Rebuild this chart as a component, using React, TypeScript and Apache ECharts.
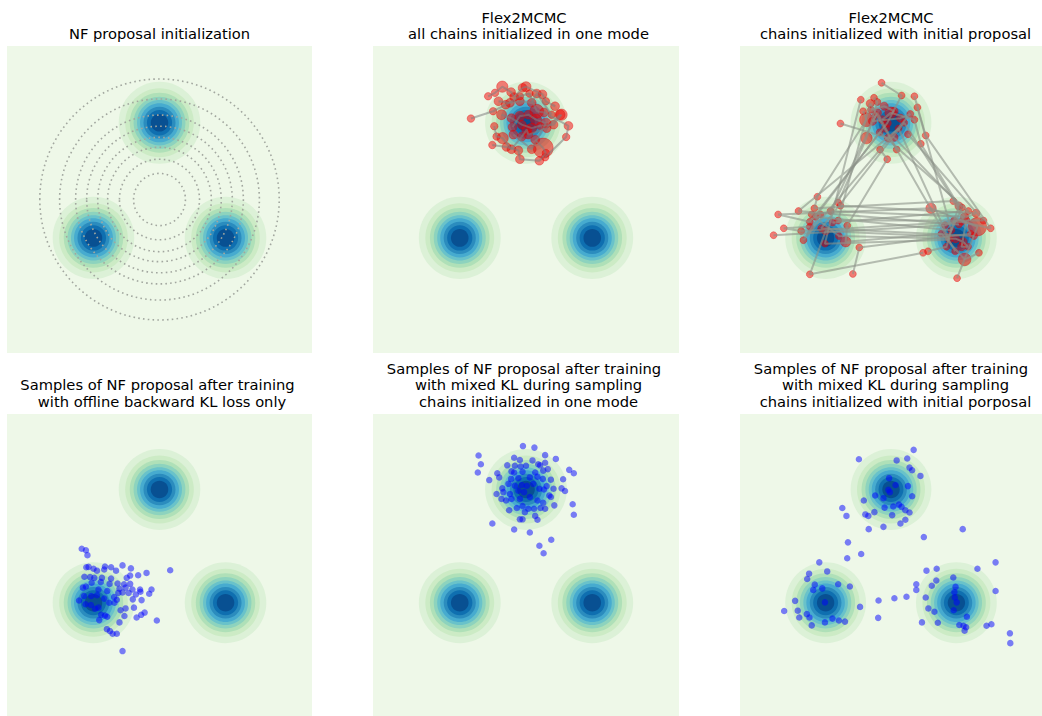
import { useEffect, useRef } from "react";
import * as echarts from "echarts";

// ---------------- data ----------------
const MODE_CENTERS: number[][] = [[0, 2], [-1.732, -1], [1.732, -1]];
// density levels 0.1 .. 0.9 of the peak -> contour radii (sigma = 0.5)
const CONTOUR_RADII: number[] = [1.07, 0.9, 0.78, 0.68, 0.59, 0.51, 0.42, 0.33, 0.23];
const PROPOSAL_RADII: number[] = [0.68, 1.05, 1.36, 1.62, 1.91, 2.2, 2.62, 3.14];

const PANEL_TITLES: string[][] = [
  ["NF proposal initialization"],
  ["Flex2MCMC", "all chains initialized in one mode"],
  ["Flex2MCMC", "chains initialized with initial proposal"],
  ["Samples of NF proposal after training", "with offline backward KL loss only"],
  ["Samples of NF proposal after training", "with mixed KL during sampling", "chains initialized in one mode"],
  ["Samples of NF proposal after training", "with mixed KL during sampling", "chains initialized with initial porposal"],
];

// chains: [x, y, marker size]
const P2_CHAINS: number[][][] = [
  [[-1.44, 2.11, 6], [-0.86, 2.3, 6], [-0.53, 2.47, 7], [-0.16, 2.69, 6], [0.09, 2.76, 6], [0.28, 2.3, 11], [0.47, 2.27, 7], [1.11, 1.92, 7], [1.05, 1.63, 6], [0.5, 1.1, 6]],
  [[-0.64, 2.21, 8], [-0.38, 2.12, 7], [-0.11, 1.95, 7], [0.15, 1.86, 8], [0.37, 1.92, 6], [0.72, 1.95, 7], [0.93, 2.21, 9]],
  [[-0.88, 1.42, 6], [-0.51, 1.37, 7], [-0.2, 1.28, 7], [-0.16, 1.05, 7], [0.35, 1.01, 7], [0.52, 1.21, 6], [0.45, 1.34, 16], [0.24, 1.56, 7]],
  [[-0.99, 2.69, 6], [-0.81, 2.78, 6], [-0.62, 2.94, 9], [-0.39, 2.8, 7], [-0.31, 2.67, 7], [-0.09, 2.91, 7], [0.0, 2.94, 8], [0.43, 2.74, 7], [0.52, 2.56, 6], [0.76, 2.43, 7]],
  [[-0.83, 1.91, 6], [-0.77, 1.64, 6], [-0.61, 1.6, 9], [-0.38, 1.31, 7], [-0.11, 1.64, 7], [0.02, 1.82, 8], [0.06, 1.69, 7], [0.54, 1.86, 7], [0.89, 2.21, 8]],
  [[-0.72, 2.56, 7], [-0.42, 2.52, 7], [-0.16, 2.56, 7], [0.15, 2.52, 7], [0.28, 2.76, 7], [0.67, 2.21, 6]],
  [[-0.35, 1.89, 7], [-0.16, 2.17, 8], [0.06, 2.21, 7], [0.26, 2.08, 9], [0.52, 1.99, 8], [0.15, 1.31, 7], [-0.33, 1.69, 7]],
];

const P3_CHAINS: number[][][] = [
  [[-0.25, 3.04, 6], [0.28, 2.71, 6], [-0.1, 1.99, 7], [-2.15, -0.58, 6], [-2.99, -0.39, 6], [1.06, -0.23, 9], [2.29, -0.71, 16], [1.75, -2.05, 6]],
  [[0.62, 2.69, 6], [0.92, 1.67, 6], [2.64, -0.75, 6], [1.87, -0.58, 6], [-2.38, -0.82, 6], [-2.84, -0.75, 6], [-2.15, -0.71, 6]],
  [[-1.34, 1.98, 6], [-0.07, 1.6, 7], [0.08, 1.62, 7], [1.88, -0.21, 6], [1.52, -0.97, 6], [-1.73, -0.82, 7], [-2.15, -1.95, 6], [0.85, -1.39, 6]],
  [[-0.74, 2.3, 6], [-0.65, 2.08, 12], [-1.95, 0.07, 6], [-2.03, -0.23, 6], [1.65, -0.04, 6], [2.11, -0.89, 6], [-0.84, -1.25, 6], [-1.01, -1.94, 6]],
  [[-0.45, 2.65, 6], [-0.36, 2.54, 6], [-0.65, 1.6, 10], [-1.4, -0.08, 6], [-1.34, -0.16, 6], [2.25, -0.36, 7], [1.43, -0.67, 6], [-3.11, -0.93, 6]],
  [[-0.29, 1.3, 6], [-0.1, 1.05, 6], [-1.16, -0.68, 6], [-1.2, -1.1, 9], [1.34, -0.89, 6], [1.95, -1.56, 11], [2.33, -1.39, 6]],
  [[-0.53, 2.34, 6], [-0.18, 2.43, 7], [0.08, 2.3, 7], [-0.23, 2.08, 7], [-0.01, 2.26, 10], [0.62, 2.08, 6], [0.79, 1.45, 6], [1.8, -0.17, 7], [1.67, -0.55, 6], [1.47, -1.23, 6], [0.98, -1.35, 6]],
  [[0.15, 1.3, 6], [-0.14, 1.86, 7], [-0.36, 2.26, 7], [-0.49, 2.04, 7], [0.25, 2.12, 7], [0.51, 2.23, 6], [-2.32, -1.06, 6], [-1.87, -0.39, 6], [-2.1, -0.39, 6], [-1.38, -0.95, 6], [1.71, -1.02, 7], [1.91, -1.1, 7], [2.04, -1.23, 6], [1.87, -1.23, 7], [2.0, -0.54, 6]],
  [[-0.4, 2.2, 6], [-1.6, -0.3, 6], [1.95, -0.45, 7], [0.35, 2.0, 6], [-1.85, -0.75, 6], [2.2, -0.95, 6]],
  [[0.7, 2.4, 6], [1.6, -0.8, 6], [-2.0, -0.45, 6], [-0.3, 1.75, 6], [2.05, -0.3, 6], [-1.55, -0.6, 6]],
  [[-0.8, 2.6, 6], [-1.75, -1.15, 6], [1.55, -1.05, 6], [0.2, 1.85, 6], [-2.45, -0.3, 6], [1.8, -0.65, 6]],
  [[0.45, 1.7, 6], [2.45, -0.55, 6], [-1.4, -0.55, 6], [-0.55, 2.5, 7], [1.7, -1.35, 6]],
];

const P4_SAMPLES: number[][] = [
  [-2.04, 0.43], [-1.93, 0.39], [-1.89, 0.26], [-1.86, -0.05], [-1.92, -0.06], [-1.73, -0.1], [-1.64, -0.15], [-1.43, -0.04], [-1.45, -0.12], [-1.27, -0.06],
  [-0.97, -0.01], [-1.14, -0.15], [-0.75, -0.09], [-0.34, -0.21], [0.28, -0.14], [-1.97, -0.31], [-1.82, -0.32], [-1.71, -0.34], [-1.51, -0.34], [-1.27, -0.36],
  [-0.86, -0.34], [-0.77, -0.28], [-0.56, -0.27], [-1.78, -0.47], [-1.54, -0.45], [-1.31, -0.5], [-1.1, -0.49], [-0.93, -0.51], [-0.77, -0.5], [-0.51, -0.65],
  [-0.21, -0.65], [-2.01, -0.6], [-1.93, -0.57], [-1.6, -0.65], [-1.37, -0.69], [-1.05, -0.63], [-0.89, -0.6], [-0.81, -0.74], [-0.71, -0.65], [-0.62, -0.78],
  [-0.5, -0.71], [-0.27, -0.76], [-1.98, -0.82], [-1.79, -0.82], [-1.64, -0.8], [-1.45, -0.89], [-1.19, -0.85], [-1.08, -0.74], [-0.97, -0.73], [-0.7, -0.91],
  [-0.47, -0.93], [-2.11, -0.94], [-1.94, -1.04], [-1.8, -1.06], [-1.69, -1.16], [-1.6, -1.13], [-1.32, -1.0], [-1.18, -1.0], [-1.12, -0.92], [-1.53, -1.32],
  [-1.43, -1.34], [-1.37, -1.37], [-1.58, -1.46], [-1.02, -1.2], [-0.89, -1.15], [-0.67, -1.13], [-0.92, -1.35], [-0.6, -1.39], [-0.48, -1.32], [-0.39, -1.26],
  [-1.05, -1.52], [-0.07, -1.47], [-1.38, -1.7], [-1.3, -1.75], [-1.23, -1.82], [-1.12, -1.82], [-0.97, -2.28],
];

const P5_SAMPLES: number[][] = [
  [-0.08, 3.15], [0.22, 3.11], [-1.24, 2.9], [-1.18, 2.67], [-1.26, 2.45], [0.5, 2.91], [0.78, 2.81], [-0.31, 2.84], [-0.16, 2.78], [0.17, 2.77],
  [-0.49, 2.64], [-0.29, 2.63], [-0.14, 2.61], [0.0, 2.63], [0.32, 2.67], [0.37, 2.64], [0.5, 2.71], [1.13, 2.52], [1.25, 2.43], [-0.38, 2.48],
  [-0.31, 2.45], [-0.09, 2.47], [0.24, 2.45], [0.45, 2.5], [0.57, 2.54], [-0.75, 2.43], [-0.7, 2.32], [-0.96, 2.25], [-0.39, 2.28], [-0.2, 2.3],
  [0.1, 2.32], [0.3, 2.34], [0.44, 2.28], [0.65, 2.26], [0.97, 2.27], [-0.46, 2.15], [-0.29, 2.1], [-0.11, 2.12], [0.02, 2.1], [0.19, 2.15],
  [0.54, 2.09], [0.72, 2.02], [0.93, 2.03], [1.02, 1.96], [-0.62, 2.03], [-0.59, 1.93], [-0.77, 1.88], [-0.42, 1.88], [-0.2, 1.97], [-0.05, 1.93],
  [0.35, 2.02], [0.47, 2.0], [0.61, 1.84], [-0.64, 1.75], [-0.52, 1.71], [-0.38, 1.75], [-0.16, 1.75], [0.1, 1.8], [0.3, 1.71], [0.45, 1.65],
  [0.65, 1.8], [0.74, 1.58], [-0.44, 1.45], [-0.24, 1.51], [-0.09, 1.56], [-0.03, 1.4], [0.06, 1.49], [0.21, 1.49], [0.38, 1.51], [0.5, 1.49],
  [-0.16, 1.21], [-0.09, 1.21], [0.24, 1.3], [0.3, 1.2], [-0.88, 1.1], [1.22, 1.61], [1.25, 1.33], [-0.31, 0.94], [0.1, 0.86], [0.66, 0.67],
  [0.35, 0.51], [0.46, 0.31],
];

const P6_SAMPLES: number[][] = [
  [0.6, 3.05], [-0.85, 2.8], [0.15, 2.77], [0.43, 2.82], [0.49, 2.58], [0.56, 2.51], [0.78, 2.36], [-0.05, 2.3], [0.12, 2.12], [-0.07, 1.99],
  [-0.03, 1.93], [0.45, 2.09], [0.56, 1.82], [-0.42, 1.84], [-0.2, 1.77], [-0.72, 1.71], [0.21, 1.6], [0.28, 1.54], [0.38, 1.45], [0.49, 1.39],
  [0.06, 1.55], [-0.17, 1.52], [-0.44, 1.4], [-0.68, 1.34], [-0.6, 1.3], [0.03, 1.32], [0.38, 1.2], [0.25, 1.1], [-0.2, 1.01], [-0.59, 0.95],
  [-1.29, 1.51], [-1.18, 1.3], [0.87, 0.74], [1.9, 0.95], [-1.14, 0.6], [-0.79, 0.29], [-1.16, 0.18], [-1.9, 0.07], [-1.69, -0.17], [-2.17, -0.23],
  [-2.22, -0.37], [-2.02, -0.52], [-1.4, -0.51], [-1.09, -0.57], [-2.06, -0.66], [-1.82, -0.62], [-2.54, -0.95], [-2.83, -1.22], [-2.47, -1.21], [-2.43, -1.39],
  [-2.23, -1.3], [-2.16, -1.39], [-2.1, -1.6], [-1.75, -1.52], [-1.55, -1.42], [-1.38, -1.47], [-1.22, -1.5], [-0.82, -1.11], [-1.75, -0.99], [-0.33, -0.94],
  [-0.34, -1.4], [0.09, -0.88], [0.41, -0.84], [0.67, -0.51], [0.67, -0.66], [0.94, -0.15], [1.21, -0.1], [1.2, -0.41], [1.08, -0.55], [1.65, -0.33],
  [1.71, -0.58], [1.68, -0.72], [1.69, -0.86], [1.74, -0.99], [0.92, -0.86], [0.99, -1.15], [1.15, -1.24], [1.66, -1.2], [2.01, -1.37], [0.82, -1.52],
  [1.24, -1.53], [1.81, -1.59], [1.92, -1.61], [1.99, -1.65], [1.95, -1.74], [2.53, -1.61], [2.66, -1.57], [2.29, -0.1], [2.77, 0.07], [2.77, -0.69],
  [3.15, -1.81], [3.16, -2.07],
];

// ---------------- styles / layout ----------------
const GNBU = ["#dcf1d7", "#ccebc5", "#afe0b8", "#8dd3be", "#69c2ca", "#47abcf", "#2b8cbe", "#0f6fb0", "#085092"];
const BG = "#eef8e8";
const GRIDS = [
  { left: 7, top: 46, width: 305, height: 307 },
  { left: 373, top: 46, width: 306, height: 307 },
  { left: 740, top: 46, width: 306, height: 307 },
  { left: 7, top: 414, width: 305, height: 306 },
  { left: 373, top: 414, width: 306, height: 306 },
  { left: 740, top: 414, width: 306, height: 306 },
];
const TITLE_CX = [159.5, 526, 893];
const FONT = '14.7px "DejaVu Sans"';

export default function App() {
  const ref = useRef<HTMLDivElement>(null);
  useEffect(() => {
    const chart = echarts.init(ref.current as HTMLDivElement, null, { renderer: "svg" });

    const contourData: number[][] = [];
    MODE_CENTERS.forEach((c) => {
      CONTOUR_RADII.forEach((r, i) => contourData.push([c[0], c[1], r, i]));
    });

    const series: any[] = [];
    GRIDS.forEach((_, p) => {
      series.push({
        type: "custom",
        xAxisIndex: p,
        yAxisIndex: p,
        silent: true,
        clip: true,
        encode: { x: 0, y: 1 },
        data: contourData,
        renderItem: (params: any, api: any) => {
          const c = api.coord([api.value(0), api.value(1)]);
          const s = api.size([api.value(2), api.value(2)]);
          return {
            type: "ellipse",
            shape: { cx: c[0], cy: c[1], rx: s[0], ry: s[1] },
            style: { fill: GNBU[api.value(3)] },
          };
        },
      });
    });

    // proposal contours (panel 1)
    series.push({
      type: "custom",
      xAxisIndex: 0,
      yAxisIndex: 0,
      silent: true,
      clip: true,
      encode: { x: 0, y: 1 },
      data: PROPOSAL_RADII.map((r) => [0, 0, r]),
      renderItem: (params: any, api: any) => {
        const c = api.coord([api.value(0), api.value(1)]);
        const s = api.size([api.value(2), api.value(2)]);
        return {
          type: "ellipse",
          shape: { cx: c[0], cy: c[1], rx: s[0], ry: s[1] },
          style: { fill: "none", stroke: "#a2a79f", lineWidth: 1.6, lineDash: [1.6, 3.2] },
        };
      },
    });

    const addChains = (chains: number[][][], p: number, scale: number, lineColor: string) => {
      chains.forEach((ch) => {
        series.push({
          type: "line",
          xAxisIndex: p,
          yAxisIndex: p,
          silent: true,
          symbol: "none",
          lineStyle: { color: lineColor, width: 2 },
          data: ch.map((d) => [d[0], d[1]]),
        });
      });
      const pts: number[][] = [];
      chains.forEach((ch) => ch.forEach((d) => pts.push(d)));
      series.push({
        type: "scatter",
        xAxisIndex: p,
        yAxisIndex: p,
        silent: true,
        symbolSize: (v: number[]) => v[2] * scale,
        itemStyle: { color: "rgba(240,0,0,0.5)", borderColor: "rgba(230,0,0,0.35)", borderWidth: 1, opacity: 1 },
        data: pts,
      });
    };
    addChains(P2_CHAINS, 1, 1.25, "rgba(128,128,128,0.55)");
    addChains(P3_CHAINS, 2, 1.15, "rgba(140,146,136,0.6)");

    [P4_SAMPLES, P5_SAMPLES, P6_SAMPLES].forEach((s, i) => {
      series.push({
        type: "scatter",
        xAxisIndex: 3 + i,
        yAxisIndex: 3 + i,
        silent: true,
        symbolSize: 6.5,
        itemStyle: { color: "rgba(0,0,255,0.5)", borderWidth: 0, opacity: 1 },
        data: s,
      });
    });

    const rowMid = [[33.9], [17.3, 33.9]];
    const rowMid2 = [[401.3], [384.9, 401.3], [368.9, 384.9, 401.3]];
    const graphics: any[] = [];
    PANEL_TITLES.forEach((lines, p) => {
      const cx = TITLE_CX[p % 3];
      const mids = p < 3 ? rowMid[lines.length - 1] : rowMid2[lines.length - 1];
      lines.forEach((t, j) => {
        const dx = lines.length === 1 ? 0 : j === 0 ? -2 : 2.5;
        graphics.push({
          type: "text",
          x: cx + dx,
          y: mids[j],
          silent: true,
          style: { text: t, fill: "#000", font: FONT, textAlign: "center", textVerticalAlign: "middle", verticalAlign: "middle" },
        });
      });
    });

    chart.setOption({
      animation: false,
      backgroundColor: "#fff",
      grid: GRIDS.map((g) => ({ ...g, show: true, backgroundColor: BG, borderWidth: 0, containLabel: false })),
      xAxis: GRIDS.map((_, i) => ({ type: "value", gridIndex: i, min: -4, max: 4, show: false })),
      yAxis: GRIDS.map((_, i) => ({ type: "value", gridIndex: i, min: -4, max: 4, show: false })),
      graphic: graphics,
      series,
    });
    return () => chart.dispose();
  }, []);
  return <div ref={ref} style={{ position: "fixed", left: 0, top: 0, width: 1042, height: 716 }} />;
}
